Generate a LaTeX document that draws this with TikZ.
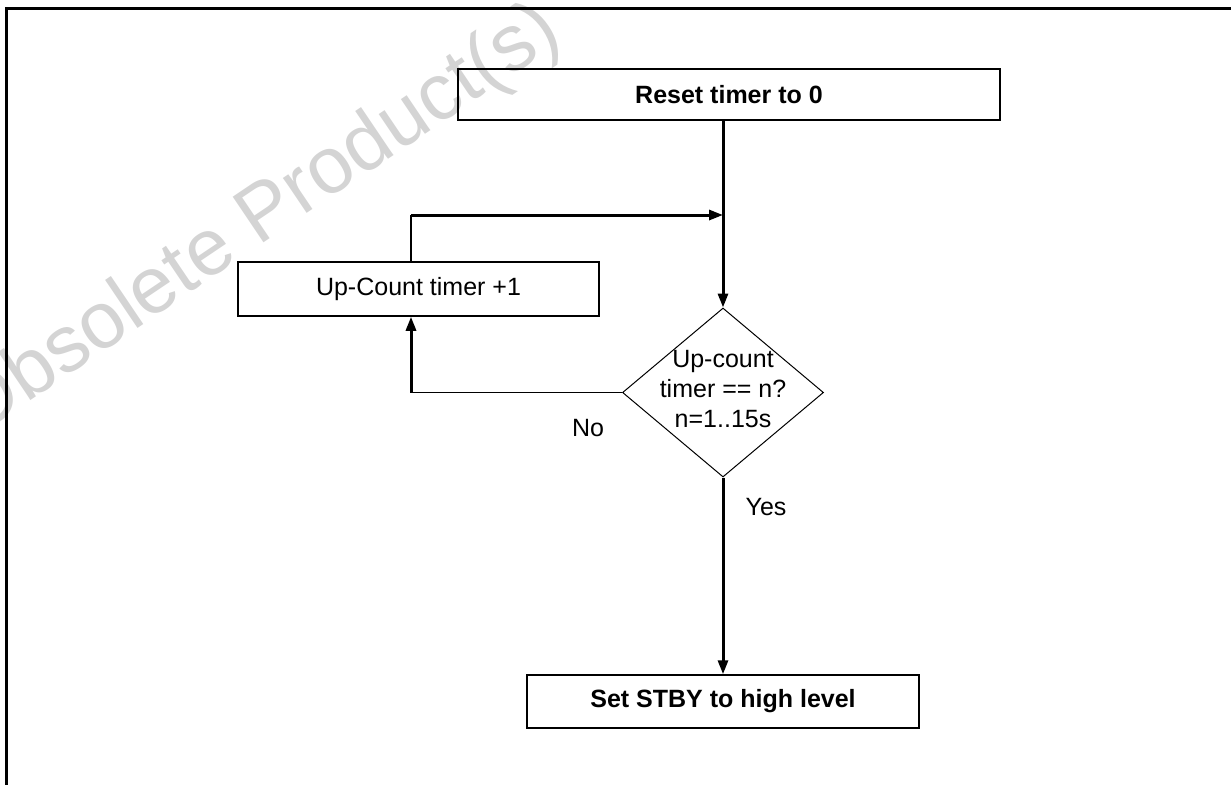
\documentclass[tikz,border=0pt]{standalone}
\usepackage{fontspec}
\setmainfont{Liberation Sans}
\usetikzlibrary{shapes.geometric,arrows.meta}
\begin{document}
\begin{tikzpicture}[x=0.5pt,y=-0.5pt,
  procbox/.style={draw,line width=0.75pt,rectangle,inner sep=0pt,font=\fontsize{12.5}{15}\selectfont},
  boldbox/.style={procbox,font=\fontsize{12.5}{15}\selectfont\bfseries},
  decision/.style={draw,line width=0.5pt,diamond,aspect=1.19,inner sep=0pt,minimum width=100.5pt,minimum height=84.5pt},
  thickflow/.style={line width=1.5pt,-{Triangle[length=7pt,width=5pt]}},
  thinline/.style={line width=0.6pt},
  lbl/.style={font=\fontsize{12.5}{15}\selectfont},
]
\useasboundingbox (0,0) rectangle (1231,784);
\clip (0,0) rectangle (1231,784);
% watermark
\node[text=black!17, rotate=34, font=\fontsize{40}{48}\selectfont] (wm) at (258,222) {Obsolete Product(s)};
% frame
\draw[line width=1.5pt] (6,800) -- (6,8) -- (1250,8);
% nodes
\node[boldbox, minimum width=271pt, minimum height=25.5pt] (reset) at (729,94.5) {Reset timer to 0};
\node[procbox, minimum width=180.5pt, minimum height=27pt] (upc) at (418.5,289) {Up-Count timer +1};
\node[decision] (dec) at (723,392.5) {};
\node[lbl, align=center] (dectext) at (723,389) {Up-count\\timer == n?\\n=1..15s};
\node[boldbox, minimum width=196pt, minimum height=26.5pt] (stby) at (723,701.5) {Set STBY to high level};
\node[lbl] (no) at (588,428) {No};
\node[lbl] (yes) at (766,507) {Yes};
\coordinate (join) at (723,215);
\coordinate (lp) at (411,215);
\coordinate (nl) at (411,392.5);
% connectors
\draw[thickflow] (join |- reset.south) -- (dec.north);
\draw[thinline] (lp |- upc.north) -- (lp);
\draw[thickflow] (lp) -- (join);
\draw[thinline] (dec.west) -- (nl);
\draw[thickflow] (nl) -- (nl |- upc.south);
\draw[thickflow] (dec.south) -- (stby.north);
\end{tikzpicture}
\end{document}
